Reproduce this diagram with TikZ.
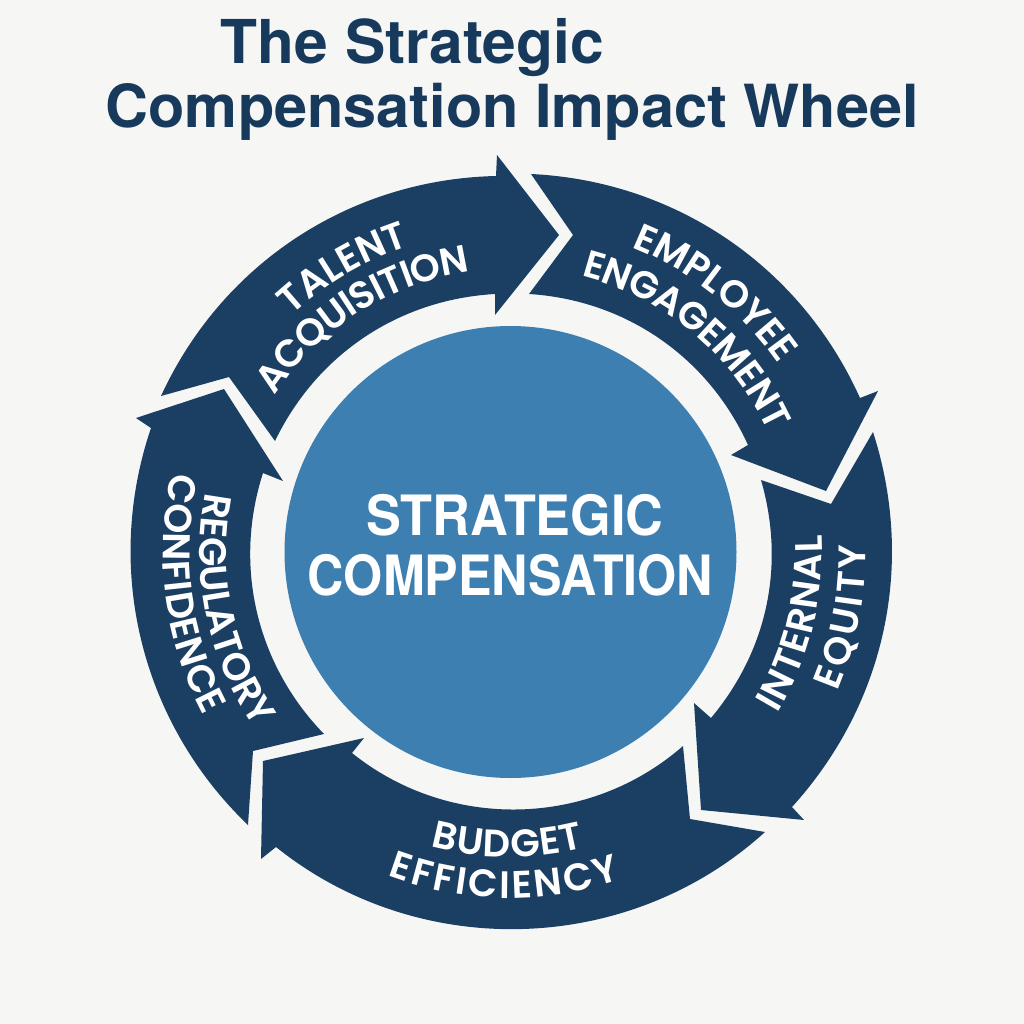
\documentclass[tikz,border=0pt]{standalone}
\usepackage{fontspec}
\usetikzlibrary{decorations.text}
\setmainfont{TeX Gyre Heros}
\newfontfamily\hubfamA{TeX Gyre Heros Bold}[FakeStretch=0.94]
\newfontfamily\hubfamB{TeX Gyre Heros Bold}[FakeStretch=0.905]
\newfontfamily\wheelfam{Poppins SemiBold}
\definecolor{bgc}{HTML}{F6F6F5}
\definecolor{navy}{HTML}{1B3F63}
\definecolor{hub}{HTML}{3D7FB0}
\definecolor{titlec}{HTML}{173A5C}
\newcommand{\wf}{\wheelfam\fontsize{10.9}{13}\selectfont}
\newcommand{\wheeltext}[4]{%
  \pgfmathsetmacro\sa{#1+#3*75}%
  \pgfmathsetmacro\ea{#1-#3*75}%
  \path[decorate,decoration={text along path,text align=center,text color=white,text={|\wf|#4}}]
    (\sa:#2) arc[start angle=\sa,end angle=\ea,radius=#2];%
}
\tikzset{
  segment/.style={fill=navy,draw=none},
  outerarc/.style={bend left=#1,looseness=0.93},
  innerarc/.style={bend right=#1,looseness=0.93},
  titletext/.style={anchor=base west,inner sep=0,text=titlec,font=\fontsize{#1}{20}\selectfont\bfseries},
  hubtext/.style={anchor=base,inner sep=0,text=white},
}
\begin{document}
\begin{tikzpicture}[x=0.01cm,y=-0.01cm]
\useasboundingbox (0,0) rectangle (1024,1024);
\fill[bgc] (0,0) rectangle (1024,1024);
% Title
\node[titletext=17.2] (title1) at (220,63) {The Strategic};
\node[titletext=16.9] (title2) at (105,127) {Compensation Impact Wheel};
% Hub
\fill[hub] (510.5,552) circle[radius=226];
\node[hubtext,font=\hubfamA\fontsize{15.8}{20}\selectfont] (hub1) at (515,535) {STRATEGIC};
\node[hubtext,font=\hubfamB\fontsize{15.8}{20}\selectfont] (hub2) at (510.5,595) {COMPENSATION};
% Talent
\fill[segment] (161,396) to[outerarc=32] (496,176) -- (497,155) -- (559,235) -- (495,315) -- (495,294)
  to[innerarc=30.5] (275,441) -- (229,377) -- cycle;
% Engagement
\fill[segment] (531,174) to[outerarc=31.5] (860,398) -- (878,391) -- (826,491) -- (731,455) -- (748,445)
  to[innerarc=31] (529,294) -- (573,235) -- cycle;
% Equity
\fill[segment] (873,432) to[outerarc=30] (792,807) -- (804,820) -- (701,810) -- (694,703) -- (711,718)
  to[innerarc=28] (761,480) -- (831,504) -- cycle;
% Budget
\fill[segment] (765,832) to[bend left=40.5,looseness=0.96] (276,847) -- (261,859) -- (263,761) -- (364,738) -- (352,753)
  to[bend right=40,looseness=0.96] (683,746) -- (690,819) -- cycle;
% Regulatory
\fill[segment] (248,825) to[outerarc=32.5] (151,428) -- (136,418) -- (224,389) -- (283,481) -- (263,473)
  to[innerarc=31] (324,734) -- (253,751) -- cycle;
% Labels
\begin{scope}[shift={(510,552)},yscale=-1]
\wheeltext{120.4}{322}{1}{TALENT}
\wheeltext{122.2}{283}{1}{{A\kern-.3pt}{C\kern-.3pt}{Q\kern-.3pt}{U\kern-.3pt}{I\kern-.3pt}{S\kern-.3pt}{I\kern-.3pt}{T\kern-.3pt}{I\kern-.3pt}{O\kern-.3pt}N}
\wheeltext{51.6}{328}{1}{EMPLOYEE}
\wheeltext{50.2}{285}{1}{{E\kern-.25pt}{N\kern-.25pt}{G\kern-.25pt}{A\kern-.25pt}{G\kern-.25pt}{E\kern-.25pt}{M\kern-.25pt}{E\kern-.25pt}{N\kern-.25pt}T}
\wheeltext{-14}{312}{-1}{{I\kern.28pt}{N\kern.28pt}{T\kern.28pt}{E\kern.28pt}{R\kern.28pt}{N\kern.28pt}{A\kern.28pt}L}
\wheeltext{-11}{356}{-1}{{E\kern.9pt}{Q\kern.9pt}{U\kern.9pt}{I\kern.9pt}{T\kern.9pt}Y}
\wheeltext{-90.5}{305}{-1}{{B\kern.25pt}{U\kern.25pt}{D\kern.25pt}{G\kern.25pt}{E\kern.25pt}T}
\wheeltext{-91}{346}{-1}{{E\kern.76pt}{F\kern.76pt}{F\kern.76pt}{I\kern.76pt}{C\kern.76pt}{I\kern.76pt}{E\kern.76pt}{N\kern.76pt}{C\kern.76pt}Y}
\wheeltext{191.8}{310}{-1}{REGULATORY}
\wheeltext{187.5}{347}{-1}{{C\kern.2pt}{O\kern.2pt}{N\kern.2pt}{F\kern.2pt}{I\kern.2pt}{D\kern.2pt}{E\kern.2pt}{N\kern.2pt}{C\kern.2pt}E}
\end{scope}
\end{tikzpicture}
\end{document}
